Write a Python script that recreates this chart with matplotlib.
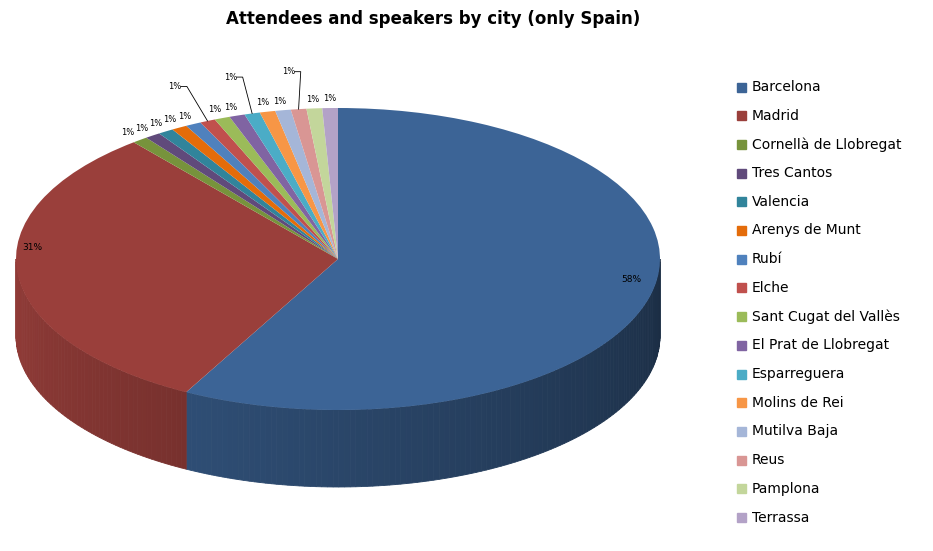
import numpy as np
import matplotlib.pyplot as plt
import matplotlib.colors as mcolors
from matplotlib.patches import Polygon

cities = ["Barcelona", "Madrid", "Cornellà de Llobregat", "Tres Cantos", "Valencia",
          "Arenys de Munt", "Rubí", "Elche", "Sant Cugat del Vallès", "El Prat de Llobregat",
          "Esparreguera", "Molins de Rei", "Mutilva Baja", "Reus", "Pamplona", "Terrassa"]
counts = [74, 40, 1, 1, 1, 1, 1, 1, 1, 1, 1, 1, 1, 1, 1, 1]
labels = ["58%", "31%"] + ["1%"] * 14
colors = ["#3c6496", "#9a3f3b", "#77933c", "#604a7b", "#31849b", "#e46c0a", "#4f81bd",
          "#c0504d", "#9bbb59", "#8064a2", "#4bacc6", "#f79646", "#a5b6d8", "#d99694",
          "#c3d69b", "#b3a2c7"]

W, H = 933, 551
cx, cy, rx, ry, depth = 338, 259, 322, 151, 77
k = rx / ry

def P(x, y):
    return x, (H - y) * k

fig = plt.figure(figsize=(W / 100, H / 100), dpi=100)
ax = fig.add_axes([0, 0, 1, 1])
ccx, ccy = P(cx, cy)

wedges, _ = ax.pie(counts, colors=colors, startangle=90, counterclock=False,
                   center=(ccx, ccy), radius=rx, frame=True,
                   wedgeprops=dict(linewidth=0, zorder=3))

# side walls (front half only), shaded by angle
for w, c in zip(wedges, colors):
    t1, t2 = w.theta1, w.theta2
    base = np.array(mcolors.to_rgb(c))
    for off in (0, 360, -360):
        a, b = max(t1 + off, 180), min(t2 + off, 360)
        if b <= a:
            continue
        th = np.linspace(a, b, max(int(b - a), 2))
        for i in range(len(th) - 1):
            m = (th[i] + th[i + 1]) / 2
            f = 0.95 - 0.5 * (m - 180) / 180
            xs = ccx + rx * np.cos(np.radians([th[i], th[i + 1]]))
            ys = ccy + rx * np.sin(np.radians([th[i], th[i + 1]]))
            pts = [(xs[0], ys[0]), (xs[1], ys[1]),
                   (xs[1], ys[1] - depth * k), (xs[0], ys[0] - depth * k)]
            col = base * f
            ax.add_patch(Polygon(pts, closed=True, facecolor=col, edgecolor=col,
                                 lw=0.6, zorder=2))

ax.set_aspect("auto")
ax.set_xlim(0, W)
ax.set_ylim(0, H * k)
ax.axis("off")

# data labels
for i, (w, lab) in enumerate(zip(wedges, labels)):
    m = np.radians((w.theta1 + w.theta2) / 2)
    if i == 0:
        ax.text(*P(631, 279), lab, fontsize=6.5, ha="center", va="center", zorder=5)
        continue
    if i == 1:
        ax.text(*P(32, 248), lab, fontsize=6.5, ha="center", va="center", zorder=5)
        continue
    r = 1.06
    lead = i in (7, 10, 13)
    if lead:
        r = 1.25
    tx, ty = ccx + rx * r * np.cos(m), ccy + rx * r * np.sin(m)
    ax.text(tx, ty, lab, fontsize=6, ha="center", va="center", zorder=5)
    if lead:
        ex, ey = ccx + rx * 1.0 * np.cos(m), ccy + rx * 1.0 * np.sin(m)
        ax.plot([tx + 6, tx + 12, ex], [ty, ty, ey], color="black", lw=0.6, zorder=5)

ax.text(*P(433, 19), "Attendees and speakers by city (only Spain)", fontsize=12,
        fontweight="bold", ha="center", va="center")

# legend
for i, (name, c) in enumerate(zip(cities, colors)):
    y = 87 + i * 28.7
    x0, y0 = P(737, y + 4.5)
    ax.add_patch(plt.Rectangle((x0, y0), 9, 9 * k, color=c, zorder=5))
    ax.text(*P(752, y), name, fontsize=10, ha="left", va="center")

fig.savefig("out.png", dpi=100)
